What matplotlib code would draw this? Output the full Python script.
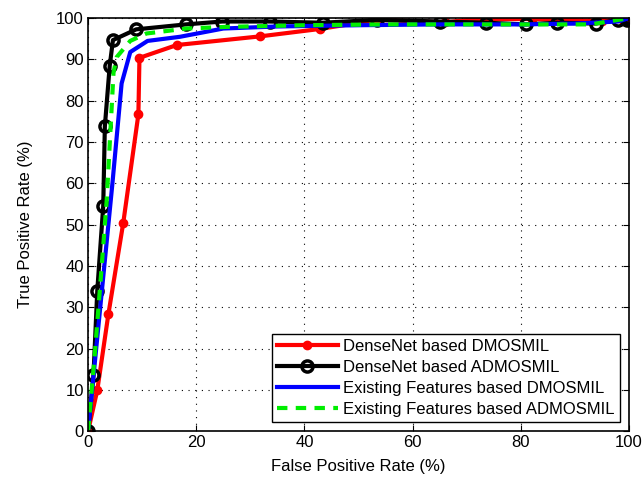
import matplotlib
matplotlib.use('Agg')
import matplotlib.pyplot as plt

plt.rcParams['font.family'] = ['Liberation Sans', 'DejaVu Sans']

# DenseNet based DMOSMIL (red, dots)
fpr_dense_dm = [0, 1.7, 3.75, 6.5, 9.3, 9.5, 16.4, 31.8, 42.9, 53.5, 66.0, 71.8, 82.0, 87.5, 95.0, 99.0, 100]
tpr_dense_dm = [0, 9.9, 28.3, 50.4, 76.7, 90.4, 93.5, 95.6, 97.4, 99.6, 99.0, 99.8, 99.8, 99.6, 99.4, 99.6, 100]

# DenseNet based ADMOSMIL (black, circles)
fpr_dense_adm = [0, 1.0, 1.7, 2.8, 3.1, 4.0, 4.6, 8.9, 18.1, 24.8, 33.6, 43.4, 53.4, 65.0, 73.6, 81.0, 86.7, 93.9, 98.0, 99.6, 100]
tpr_dense_adm = [0, 13.6, 34.0, 54.5, 73.8, 88.5, 94.7, 97.3, 98.5, 99.2, 99.2, 98.9, 99.6, 99.2, 98.9, 98.5, 98.9, 98.7, 99.6, 99.6, 100]

# Existing Features based DMOSMIL (blue)
fpr_exist_dm = [0, 1.5, 3.0, 4.5, 6.2, 7.8, 11.0, 17.0, 25.0, 35.0, 50.0, 65.0, 80.0, 90.0, 98.0, 100]
tpr_exist_dm = [0, 20.0, 40.0, 60.0, 84.2, 91.8, 94.5, 95.5, 97.5, 98.0, 98.3, 98.5, 98.5, 98.7, 99.2, 100]

# Existing Features based ADMOSMIL (green dashed)
fpr_exist_adm = [0, 1.2, 2.4, 3.45, 4.7, 5.3, 7.8, 10.8, 14.5, 18.2, 25.6, 40.0, 55.0, 70.0, 85.0, 93.0, 98.0, 100]
tpr_exist_adm = [0, 18.0, 38.0, 56.0, 86.8, 90.6, 94.5, 96.3, 96.9, 97.5, 97.9, 98.3, 98.5, 98.5, 98.5, 98.5, 99.6, 100]

fig = plt.figure(figsize=(6.43, 4.79), dpi=100)
ax = fig.add_axes([0.137, 0.10, 0.841, 0.862])

ax.plot(fpr_dense_dm, tpr_dense_dm, color='red', lw=3, marker='o', ms=6,
        label='DenseNet based DMOSMIL')
ax.plot(fpr_dense_adm, tpr_dense_adm, color='black', lw=3, marker='o', ms=8,
        mfc='none', mew=2.5, label='DenseNet based ADMOSMIL')
ax.plot(fpr_exist_dm, tpr_exist_dm, color='blue', lw=3,
        label='Existing Features based DMOSMIL')
ax.plot(fpr_exist_adm, tpr_exist_adm, color='#00ee00', lw=3, ls=(0, (2.5, 2)),
        label='Existing Features based ADMOSMIL')

ax.set_xlim(0, 100)
ax.set_ylim(0, 100)
ax.set_xticks(range(0, 101, 20))
ax.set_yticks(range(0, 101, 10))
ax.tick_params(direction='in', top=True, right=True, labelsize=12, length=4, pad=3)
ax.grid(True, color='black', ls=(0, (1, 5)), lw=0.8)
for s in ax.spines.values():
    s.set_linewidth(1.2)

ax.set_xlabel('False Positive Rate (%)', fontsize=12, labelpad=6)
ax.set_ylabel('True Positive Rate (%)', fontsize=12, labelpad=17)

leg = ax.legend(loc='lower right', fontsize=12, handlelength=3.7, fancybox=False,
                framealpha=1, edgecolor='black', borderaxespad=0.55, labelspacing=0.36,
                borderpad=0.3, handletextpad=0.3)
leg.get_frame().set_linewidth(1.0)

fig.savefig('out.png', dpi=100)
